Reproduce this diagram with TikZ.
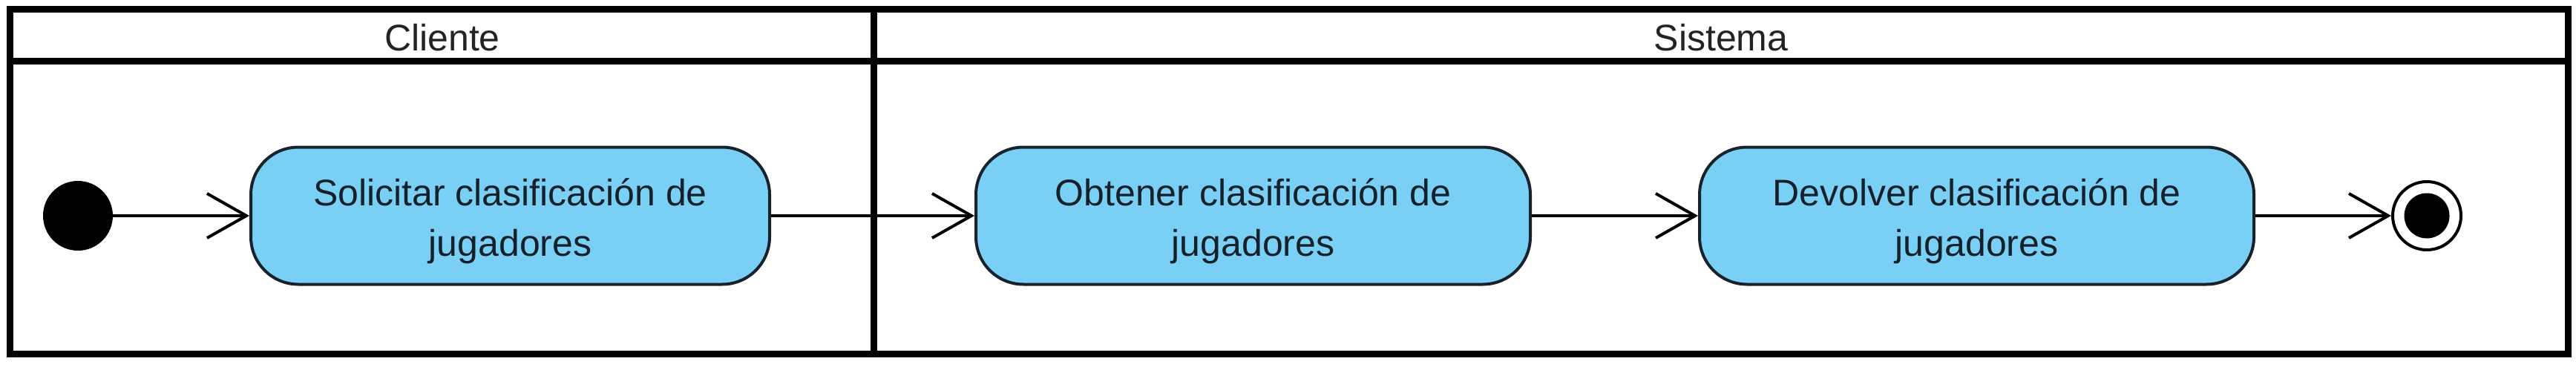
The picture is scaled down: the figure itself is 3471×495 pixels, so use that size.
\documentclass[tikz,border=0pt]{standalone}
\usepackage{fontspec}
\setmainfont{Liberation Sans}
\usetikzlibrary{arrows.meta}
\definecolor{actfill}{RGB}{122,207,245}
\definecolor{actline}{RGB}{24,34,42}
\definecolor{acttext}{RGB}{20,32,42}
\definecolor{lanetext}{RGB}{35,35,35}
\newcommand{\actstrut}{\rule{0pt}{51pt}}
\tikzset{
  lanefr/.style={line width=9pt, draw=black},
  actbox/.style={draw=actline, fill=actfill, line width=4pt, rounded corners=64pt,
    minimum height=185pt, inner sep=0pt, align=center, text=acttext,
    font=\fontsize{50}{68}\selectfont},
  lanelabel/.style={anchor=base, text=lanetext, font=\fontsize{50}{60}\selectfont, inner sep=0pt},
  startnode/.style={circle, fill=black, minimum size=94pt, inner sep=0pt},
  endnode/.style={circle, draw=black, fill=white, line width=4pt, minimum size=92pt, inner sep=0pt},
  endinner/.style={circle, fill=black, minimum size=61pt, inner sep=0pt},
  flow/.style={line width=4pt, draw=black, -{Straight Barb[length=53pt,width=60pt,line width=4pt]}}
}
\begin{document}
\begin{tikzpicture}[x=1pt,y=-1pt]
\useasboundingbox (0,0) rectangle (3471,495);
% swimlane frame
\draw[lanefr] (13,13) rectangle (3460,477);
\draw[lanefr] (13,82) -- (3460,82);
\draw[lanefr] (1177,13) -- (1177,477);
\node[lanelabel] (lcli) at (596,68) {Cliente};
\node[lanelabel] (lsis) at (2319,68) {Sistema};
% nodes
\node[startnode] (ini) at (105,291) {};
\node[actbox, minimum width=699pt] (a1) at (687.5,291) {\actstrut Solicitar clasificación de\\jugadores};
\node[actbox, minimum width=747pt] (a2) at (1688.5,291) {\actstrut Obtener clasificación de\\jugadores};
\node[actbox, minimum width=747pt] (a3) at (2663.5,291) {\actstrut Devolver clasificación de\\jugadores};
\node[endnode] (fin) at (3270,291) {};
\node[endinner] (finin) at (fin.center) {};
% flows
\draw[flow] (ini.east) -- (a1.west);
\draw[flow] (a1.east) -- (a2.west);
\draw[flow] (a2.east) -- (a3.west);
\draw[flow] (a3.east) -- (fin.west);
\end{tikzpicture}
\end{document}
